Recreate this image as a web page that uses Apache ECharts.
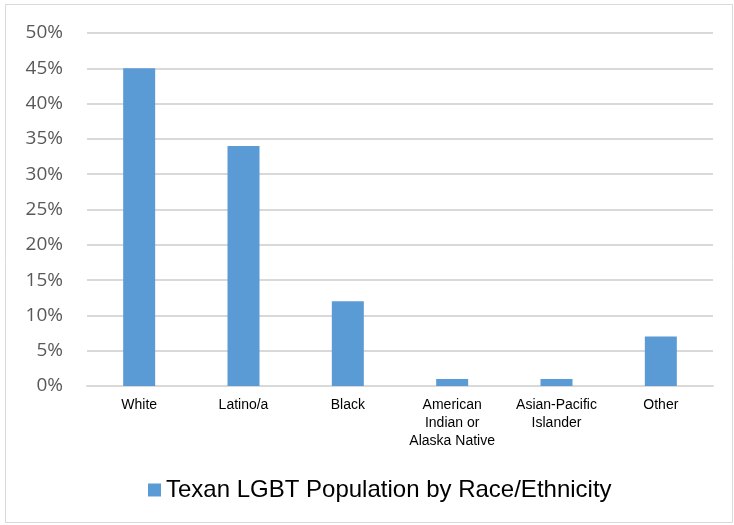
<!DOCTYPE html>
<html><head><meta charset="utf-8">
<script src="https://cdn.jsdelivr.net/npm/echarts@6/dist/echarts.min.js"></script>
<style>html,body{margin:0;padding:0;background:#fff}#c{width:734px;height:525px}</style>
</head><body><div id="c"></div>
<script>
const categories = ['White', 'Latino/a', 'Black', 'American\nIndian or\nAlaska Native', 'Asian-Pacific\nIslander', 'Other'];
const values = [45, 34, 12, 1, 1, 7];
const seriesName = 'Texan LGBT Population by Race/Ethnicity';
const yTicks = [0, 5, 10, 15, 20, 25, 30, 35, 40, 45, 50];

const chart = echarts.init(document.getElementById('c'), null, {renderer: 'canvas'});
chart.setOption({
  animation: false,
  backgroundColor: '#fff',
  graphic: [{type: 'rect', shape: {x: 5.5, y: 4.5, width: 727, height: 518}, style: {fill: 'none', stroke: '#d9d9d9', lineWidth: 1}, silent: true}],
  grid: {left: 87, right: 21, top: 33, bottom: 139, containLabel: false},
  legend: {
    bottom: 18, left: 143,
    itemWidth: 13, itemHeight: 13, itemGap: 6,
    icon: 'rect',
    textStyle: {fontFamily: 'Liberation Sans, Arial', fontSize: 24, color: '#000'},
    data: [seriesName]
  },
  xAxis: {
    type: 'category', data: categories,
    axisTick: {show: false},
    axisLine: {lineStyle: {color: '#d9d9d9', width: 2}},
    axisLabel: {interval: 0, fontFamily: 'Liberation Sans, Arial', fontSize: 14, color: '#000', lineHeight: 18, margin: 10}
  },
  yAxis: {
    type: 'value', min: yTicks[0], max: yTicks[yTicks.length - 1], interval: 5,
    axisLine: {show: false}, axisTick: {show: false},
    splitLine: {lineStyle: {color: '#d9d9d9', width: 2}},
    axisLabel: {formatter: v => v + '%', fontFamily: 'Open Sans, DejaVu Sans', fontSize: 19, color: '#595959', margin: 24}
  },
  series: [{
    name: seriesName, type: 'bar', data: values, barWidth: 32,
    itemStyle: {color: '#5b9bd5'}
  }]
});
</script></body></html>
